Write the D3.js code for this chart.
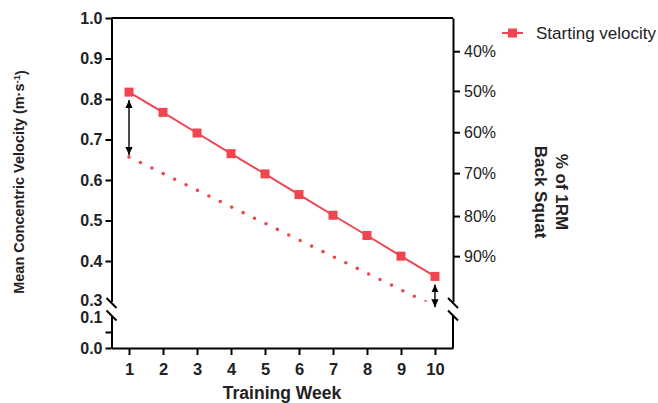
<!DOCTYPE html>
<html>
<head>
<meta charset="utf-8">
<script src="https://cdn.jsdelivr.net/npm/d3@7"></script>
<style>
  body { margin: 0; background: #fff; }
  svg { font-family: "Liberation Sans", Arial, sans-serif; }
</style>
</head>
<body>
<svg id="svg" width="658" height="403"></svg>
<script>
// data
const weeks = [1, 2, 3, 4, 5, 6, 7, 8, 9, 10]
const startVel = [0.817, 0.767, 0.716, 0.665, 0.615, 0.564, 0.513, 0.463, 0.412, 0.362]
const lossVel = [0.657, 0.616, 0.575, 0.534, 0.493, 0.452, 0.411, 0.370, 0.329, 0.288]
const upperTicks = [0.3, 0.4, 0.5, 0.6, 0.7, 0.8, 0.9, 1.0]
const lowerTicks = [0, 0.05, 0.1]
const pctLabels = ['40%', '50%', '60%', '70%', '80%', '90%']
const pctVel = [0.918, 0.820, 0.718, 0.617, 0.511, 0.412]
const arrowWeeks = [1, 10]

const red = '#ef4550'
const svg = d3.select('#svg')

const x = d3.scaleLinear().domain([0.485, 10.53]).range([111.5, 453])
const yUp = d3.scaleLinear().domain([0.3, 1.0]).range([301.5, 18])
const yLow = d3.scaleLinear().domain([0, 0.1]).range([348, 316])

const fmt = d3.format('.1f')

// left axis, upper part
const gL = svg.append('g')
  .attr('transform', `translate(${x.range()[0]},0)`)
  .call(d3.axisLeft(yUp).tickValues(upperTicks).tickFormat(fmt).tickSize(6).tickPadding(3).tickSizeOuter(0))
gL.selectAll('.tick').filter(d => d === 0.3).select('line').remove()
gL.selectAll('.tick').filter(d => d === 0.3).select('text').attr('dy', '0.25em')

// left axis, lower part
const gL2 = svg.append('g')
  .attr('transform', `translate(${x.range()[0]},0)`)
  .call(d3.axisLeft(yLow).tickValues(lowerTicks).tickFormat(d => d === 0.05 ? '' : fmt(d)).tickSize(6).tickPadding(3).tickSizeOuter(0))
gL2.selectAll('.tick').filter(d => d === 0.1).select('line').remove()
gL2.selectAll('.tick').filter(d => d === 0.1).select('text').attr('dy', '0.4em')

// right axis
const gR = svg.append('g')
  .attr('transform', `translate(${x.range()[1]},0)`)
  .call(d3.axisRight(yUp).tickValues(pctVel).tickFormat((d, i) => pctLabels[i]).tickSize(7).tickPadding(4).tickSizeOuter(0))
svg.append('line')
  .attr('x1', x.range()[1]).attr('x2', x.range()[1])
  .attr('y1', yLow(0.1)).attr('y2', yLow(0))
  .attr('stroke', '#000').attr('stroke-width', 2)

// bottom axis
const gB = svg.append('g')
  .attr('transform', `translate(0,${yLow(0)})`)
  .call(d3.axisBottom(x).tickValues(weeks).tickFormat(d3.format('d')).tickSize(7).tickPadding(8).tickSizeOuter(0))

// top border
svg.append('line')
  .attr('x1', x.range()[0]).attr('x2', x.range()[1])
  .attr('y1', yUp(1.0)).attr('y2', yUp(1.0))
  .attr('stroke', '#000').attr('stroke-width', 2)

svg.selectAll('.domain, .tick line').attr('stroke', '#000').attr('stroke-width', 2)
gL.selectAll('text').attr('font-size', 16).attr('font-weight', 'bold').attr('fill', '#222')
gL2.selectAll('text').attr('font-size', 16).attr('font-weight', 'bold').attr('fill', '#222')
gB.selectAll('text').attr('font-size', 16.5).attr('font-weight', 'bold').attr('fill', '#222')
gR.selectAll('text').attr('font-size', 16).attr('fill', '#222')
svg.selectAll('g').attr('font-family', null)

// axis break slashes
;[x.range()[0], x.range()[1]].forEach(ax => {
  ;[303, 315.5].forEach(cy => {
    svg.append('line')
      .attr('x1', ax - 5).attr('y1', cy - 5)
      .attr('x2', ax + 5).attr('y2', cy + 5)
      .attr('stroke', '#000').attr('stroke-width', 2)
  })
})

// dotted line (clipped at the break)
svg.append('clipPath').attr('id', 'clipUp')
  .append('rect').attr('x', x.range()[0]).attr('y', yUp(1.0))
  .attr('width', x.range()[1] - x.range()[0]).attr('height', yUp(0.3) - yUp(1.0))

const lossLine = d3.line().x((d, i) => x(weeks[i])).y(d => yUp(d))
svg.append('path')
  .attr('d', lossLine(lossVel))
  .attr('clip-path', 'url(#clipUp)')
  .attr('fill', 'none')
  .attr('stroke', red)
  .attr('stroke-width', 3.6)
  .attr('stroke-linecap', 'round')
  .attr('stroke-dasharray', '0 12.7')

// solid line + markers
const startLine = d3.line().x((d, i) => x(weeks[i])).y(d => yUp(d))
svg.append('path')
  .attr('d', startLine(startVel))
  .attr('fill', 'none')
  .attr('stroke', red)
  .attr('stroke-width', 2)

svg.selectAll('rect.mk')
  .data(startVel)
  .join('rect')
  .attr('class', 'mk')
  .attr('x', (d, i) => x(weeks[i]) - 4.5)
  .attr('y', d => yUp(d) - 4.5)
  .attr('width', 9).attr('height', 9)
  .attr('fill', red)

// double-headed arrows
const defs = svg.append('defs')
defs.append('marker').attr('id', 'ah')
  .attr('viewBox', '0 0 10 10').attr('refX', 10).attr('refY', 5)
  .attr('markerWidth', 8).attr('markerHeight', 8).attr('markerUnits', 'userSpaceOnUse')
  .attr('orient', 'auto-start-reverse')
  .append('path').attr('d', 'M0,0.5 L10,5 L0,9.5 Z').attr('fill', '#000')

arrowWeeks.forEach(w => {
  const i = weeks.indexOf(w)
  svg.append('line')
    .attr('x1', x(w)).attr('x2', x(w))
    .attr('y1', yUp(startVel[i]) + 8)
    .attr('y2', yUp(lossVel[i]) + (w === 1 ? -2 : 1))
    .attr('stroke', '#000').attr('stroke-width', 1.4)
    .attr('marker-start', 'url(#ah)')
    .attr('marker-end', 'url(#ah)')
})

// axis titles
const lt = svg.append('text')
  .attr('transform', 'translate(24,182) rotate(-90)')
  .attr('text-anchor', 'middle')
  .attr('font-size', 14.5).attr('font-weight', 'bold').attr('fill', '#222')
lt.append('tspan').text('Mean Concentric Velocity (m·s')
lt.append('tspan').attr('dy', '-0.45em').attr('font-size', 9.5).text('-1')
lt.append('tspan').attr('dy', '0.45em').text(')')

svg.append('text')
  .attr('x', 282).attr('y', 399)
  .attr('text-anchor', 'middle')
  .attr('font-size', 17.5).attr('font-weight', 'bold').attr('fill', '#222')
  .text('Training Week')

const rt = svg.append('text')
  .attr('transform', 'translate(556,192) rotate(90)')
  .attr('text-anchor', 'middle')
  .attr('font-size', 17).attr('font-weight', 'bold').attr('fill', '#222')
rt.append('tspan').attr('x', 0).attr('y', 0).text('% of 1RM')
rt.append('tspan').attr('x', 0).attr('y', 21).text('Back Squat')

// legend
svg.append('line')
  .attr('x1', 502).attr('x2', 523).attr('y1', 33).attr('y2', 33)
  .attr('stroke', red).attr('stroke-width', 2)
svg.append('rect')
  .attr('x', 508).attr('y', 28.5).attr('width', 9).attr('height', 9).attr('fill', red)
svg.append('text')
  .attr('x', 536).attr('y', 39)
  .attr('font-size', 17).attr('fill', '#222')
  .text('Starting velocity')
</script>
</body>
</html>
